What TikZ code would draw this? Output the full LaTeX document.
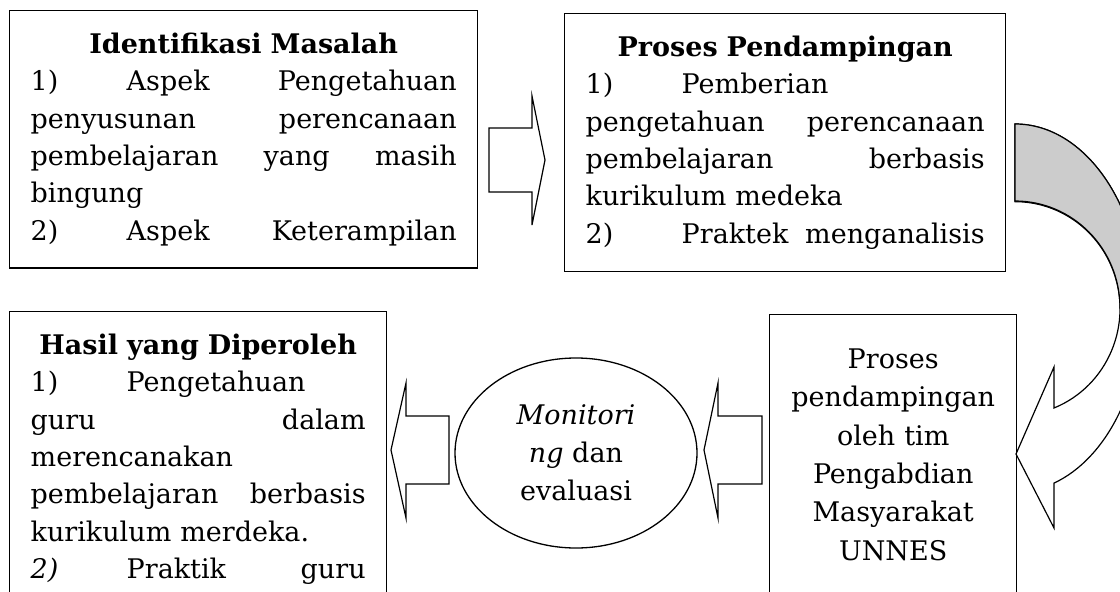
\documentclass[tikz,border=0pt]{standalone}
\usepackage{fontspec}
\setmainfont{DejaVu Serif}
\usetikzlibrary{shapes.geometric}

\newcommand{\nr}[1]{\makebox[96pt][l]{#1}}
\newcommand{\jl}[1]{\makebox[\linewidth][s]{\spaceskip=.3333em plus 1fil\relax #1}}
\newcommand{\ttl}[1]{\makebox[\linewidth]{\textbf{#1}}}

\begin{document}
\begin{tikzpicture}[x=1pt,y=-1pt,
box/.style={draw,line width=1.4pt,align=left,anchor=north west,
inner xsep=21pt,inner ysep=22pt,font=\fontsize{27}{37.4}\selectfont},
ell/.style={draw,ellipse,line width=1.3pt,minimum width=242pt,minimum height=190pt,
inner sep=0pt,align=center,font=\fontsize{27}{38}\selectfont},
blk/.style={draw,line width=1.2pt,fill=white,line join=miter}
]
\useasboundingbox (0,0) rectangle (1120,592);
\clip (0,0) rectangle (1120,592);

\node[box,text width=426pt] (identifikasi) at (9,10) {\ttl{Identifikasi Masalah}\\
\jl{\nr{1)}Aspek Pengetahuan}\\
\jl{penyusunan perencanaan}\\
\jl{pembelajaran yang masih}\\
bingung\\
\jl{\nr{2)}Aspek Keterampilan}};

\node[box,text width=399pt] (pendampingan) at (564,13) {\ttl{Proses Pendampingan}\\
\nr{1)}Pemberian\\
\jl{pengetahuan perencanaan}\\
\jl{pembelajaran berbasis}\\
kurikulum medeka\\
\jl{\nr{2)}Praktek menganalisis}};

\node[box,text width=335pt] (hasil) at (9,311) {\ttl{Hasil yang Diperoleh}\\
\nr{1)}Pengetahuan\\
\jl{guru dalam}\\
merencanakan\\
\jl{pembelajaran berbasis}\\
kurikulum merdeka.\\
\jl{\nr{\textit{2)}}Praktik guru}};

\node[box,text width=205pt,align=center,inner ysep=34pt,
font=\fontsize{27}{38.4}\selectfont] (tim) at (769,314) {Proses\\
pendampingan\\ oleh tim\\ Pengabdian\\ Masyarakat\\ UNNES};

\node[ell] (monev) at (576,453) {\textit{Monitori}\\ \textit{ng} dan\\ evaluasi};

\draw[blk] (489,128) -- (532,128) -- (532,96) -- (545,160) -- (532,225)
-- (532,192) -- (489,192) -- cycle;
\draw[blk] (762,416) -- (718,416) -- (718,383) -- (704,450) -- (718,518)
-- (718,484) -- (762,484) -- cycle;
\draw[blk] (449,416) -- (406,416) -- (406,383) -- (391,450) -- (406,518)
-- (406,484) -- (449,484) -- cycle;

\draw[blk] (1015,124) arc[start angle=-90,end angle=72.1,x radius=127,y radius=184]
-- (1054,528) -- (1016,454) -- (1054,367) -- (1054,408)
arc[start angle=68.2,end angle=-90,x radius=105,y radius=107] -- cycle;
\draw[blk,fill=gray!40] (1015,124) arc[start angle=-90,end angle=0,x radius=127,y radius=184]
-- (1120,308) arc[start angle=0,end angle=-90,x radius=105,y radius=107] -- cycle;
\end{tikzpicture}
\end{document}
